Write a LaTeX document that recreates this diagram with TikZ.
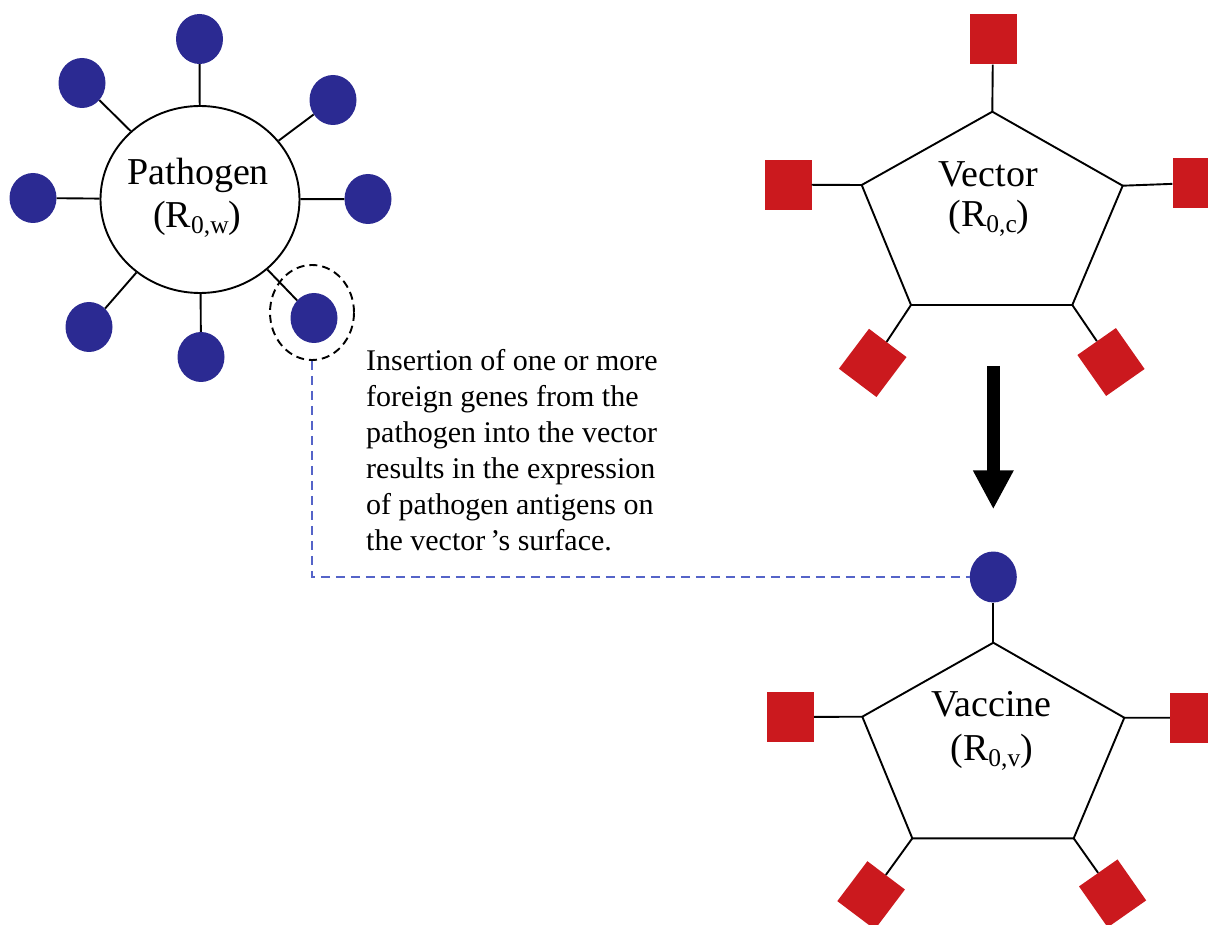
\documentclass[tikz,border=0pt]{standalone}
\usepackage{fontspec}
\setmainfont{Liberation Serif}
\usetikzlibrary{shapes.geometric,arrows.meta}
\definecolor{dotblue}{RGB}{43,42,146}
\definecolor{sqred}{RGB}{203,25,30}
\definecolor{linkblue}{RGB}{85,100,200}
\newcommand\lsub[1]{\raisebox{-6pt}{\fontsize{25.5}{27}\selectfont #1}}
\tikzset{
 antigen/.style={ellipse, fill=dotblue, minimum width=47pt, minimum height=50pt, inner sep=0pt},
 protein/.style={rectangle, fill=sqred, minimum width=47pt, minimum height=50pt, inner sep=0pt},
 spoke/.style={line width=1.9pt},
 shell/.style={line width=1.9pt, line join=miter},
 titletext/.style={font=\fontsize{38}{42}\selectfont, inner sep=0pt, anchor=base},
 notetext/.style={font=\fontsize{30}{36}\selectfont, inner sep=0pt, align=left, anchor=base west},
 pathring/.style={ellipse, draw, dash pattern=on 8pt off 5pt, line width=1.9pt, minimum width=84pt, minimum height=95pt, inner sep=0pt},
 dashlink/.style={draw=linkblue, line width=1.9pt, dash pattern=on 9pt off 6pt},
}
\begin{document}
\begin{tikzpicture}[x=1pt,y=-1pt]
\clip (0,0) rectangle (1208,925);
% ---------------- Pathogen ----------------
\node[draw, ellipse, line width=1.9pt, minimum width=199pt, minimum height=187pt, inner sep=0pt] (path) at (200,199.5) {};
\node[titletext] (ptitle) at (198.2,184.3) {Pathogen};
\node[titletext] (psub) at (197.3,227.7) {(R\lsub{0,w})};
\node[antigen] (p1) at (199.5,39) {};
\node[antigen] (p2) at (333,100) {};
\node[antigen] (p3) at (368,199) {};
\node[antigen] (p4) at (314,318) {};
\node[antigen] (p5) at (201,357) {};
\node[antigen] (p6) at (89,327) {};
\node[antigen] (p7) at (33,198) {};
\node[antigen] (p8) at (82,83) {};
\foreach \i in {1,...,8} \draw[spoke] (path) -- (p\i);
\node[pathring] (ring) at (312,312.5) {};
% ---------------- Vector ----------------
\coordinate (V1) at (992.3,111.7);
\coordinate (V2) at (1122.7,185.7);
\coordinate (V3) at (1072.3,305);
\coordinate (V4) at (911,305);
\coordinate (V5) at (861.7,185);
\draw[shell] (V1) -- (V2) -- (V3) -- (V4) -- (V5) -- cycle;
\node[titletext] (vtitle) at (988.3,186.7) {Vector};
\node[titletext] (vsub) at (989,226.7) {(R\lsub{0,c})};
\node[protein] (q1) at (993,39.5) {};
\node[protein] (q2) at (1196,183) {};
\node[protein, rotate=35] (q3) at (1111,362) {};
\node[protein, rotate=-37] (q4) at (872.7,362.9) {};
\node[protein] (q5) at (788,184.7) {};
\draw[spoke] (V1) -- (q1);
\draw[spoke] (V2) -- (q2);
\draw[spoke] (V3) -- (q3);
\draw[spoke] (V4) -- (q4);
\draw[spoke] (V5) -- (q5);
% ---------------- Arrow ----------------
\coordinate (atop) at (993.3,366);
\coordinate (abot) at (993.3,509.3);
\draw[line width=13pt, -{Triangle[width=38pt,length=39pt]}] (atop) -- (abot);
% ---------------- Vaccine ----------------
\coordinate (W1) at (993.3,642.7);
\coordinate (W2) at (1124.3,717.7);
\coordinate (W3) at (1073.7,838.3);
\coordinate (W4) at (912.3,838.3);
\coordinate (W5) at (862.3,716.7);
\draw[shell] (W1) -- (W2) -- (W3) -- (W4) -- (W5) -- cycle;
\node[titletext] (wtitle) at (991.3,716.7) {Vaccine};
\node[titletext] (wsub) at (991.7,760.7) {(R\lsub{0,v})};
\node[antigen, minimum height=51pt] (wdot) at (993.3,577) {};
\node[protein] (r2) at (1193.5,717.8) {};
\node[protein, rotate=35] (r3) at (1112.6,893.4) {};
\node[protein, rotate=-37] (r4) at (871.1,895.3) {};
\node[protein] (r5) at (790.3,717) {};
\draw[spoke] (W1) -- (wdot);
\draw[spoke] (W2) -- (r2);
\draw[spoke] (W3) -- (r3);
\draw[spoke] (W4) -- (r4);
\draw[spoke] (W5) -- (r5);
% ---------------- Insertion note ----------------
\node[notetext] (note) at (366,550) {Insertion of one or more\\foreign genes from the\\pathogen into the vector\\results in the expression\\of pathogen antigens on\\the vector\,’s surface.};
\draw[dashlink] (ring.south) |- (wdot.west);
\end{tikzpicture}
\end{document}
